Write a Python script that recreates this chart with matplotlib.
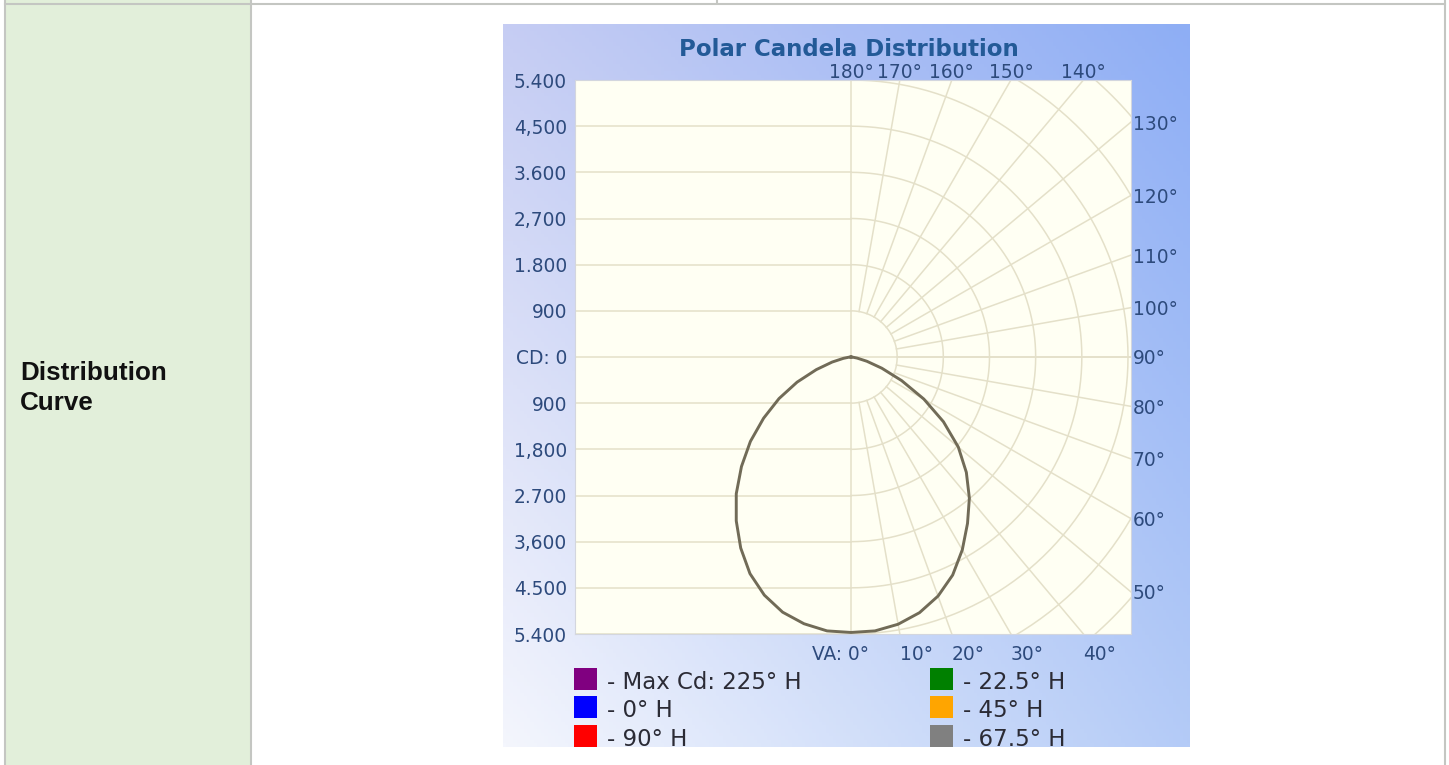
import numpy as np
import matplotlib.pyplot as plt
from matplotlib.patches import Rectangle
from matplotlib.colors import to_rgb

W, H = 1449, 765

# candela, per vertical angle (deg)
va_deg = [0, 5, 10, 15, 20, 25, 30, 35, 40, 45, 50, 55, 60, 65, 70, 75, 80, 85, 90]
cd_right = [5370, 5360, 5290, 5160, 4960, 4690, 4340, 3960, 3590, 3180, 2730,
            2200, 1640, 1090, 640, 320, 120, 30, 0]
cd_left = [5370, 5360, 5280, 5150, 4940, 4660, 4300, 3900, 3480, 3020, 2560,
           2080, 1620, 1160, 720, 380, 150, 40, 0]

cd_ticks = [5400, 4500, 3600, 2700, 1800, 900, 0, -900, -1800, -2700, -3600, -4500, -5400]
cd_labels = ["5.400", "4,500", "3.600", "2,700", "1.800", "900", "CD: 0",
             "900", "1,800", "2.700", "3,600", "4.500", "5.400"]
angle_ticks = list(range(0, 181, 10))
angle_labels = ["VA: 0°"] + [f"{a}°" for a in angle_ticks[1:]]

legend_names = ["- Max Cd: 225° H", "- 0° H", "- 90° H", "- 22.5° H", "- 45° H", "- 67.5° H"]
legend_colors = ["#800080", "#0000ff", "#ff0000", "#008000", "#ffa500", "#808080"]

label_color = "#2d4a7c"
grid_color = "#e4e0c9"

fig = plt.figure(figsize=(W / 100, H / 100), dpi=100)
fig.patch.set_facecolor("white")

# page (table) layer, pixel coordinates
page = fig.add_axes([0, 0, 1, 1], zorder=0)
page.set_xlim(0, W)
page.set_ylim(H, 0)
page.axis("off")
page.add_patch(Rectangle((5, 0), 246, H, facecolor="#e2efda", edgecolor="none"))
page.add_patch(Rectangle((251, 0), W - 251, 3, facecolor="white", edgecolor="none"))
for x in [5, 251, 1445]:
    page.plot([x, x], [0, H], color="#c4c6c2", lw=1.5)
page.plot([5, 1445], [3.5, 3.5], color="#c4c6c2", lw=1.5)
page.plot([717, 717], [0, 3], color="#c4c6c2", lw=1.5)
page.text(20, 380, "Distribution", fontsize=18.7, fontweight="bold",
          family="Liberation Sans", color="#111111", va="baseline")
page.text(20, 410, "Curve", fontsize=18.7, fontweight="bold",
          family="Liberation Sans", color="#111111", va="baseline")

# chart image background
cx0, cx1, cy0, cy1 = 503, 1190, 24, 747
bg = fig.add_axes([cx0 / W, 1 - cy1 / H, (cx1 - cx0) / W, (cy1 - cy0) / H], zorder=1)
bg.set_xlim(cx0, cx1)
bg.set_ylim(cy1, cy0)
bg.axis("off")
gx = np.linspace(0, 1, 200)[None, :, None]
gy = np.linspace(0, 1, 200)[:, None, None]
tl, tr, bl, br = (np.array(to_rgb(c)) for c in ["#c6cdf3", "#8eaef5", "#f4f6fd", "#b4cbf7"])
img = (1 - gx) * (1 - gy) * tl + gx * (1 - gy) * tr + (1 - gx) * gy * bl + gx * gy * br
bg.imshow(img, extent=(cx0, cx1, cy1, cy0), aspect="auto", origin="upper")
bg.text(849, 56, "Polar Candela Distribution", fontsize=16.5, fontweight="bold",
        color="#235a97", ha="center", va="baseline")

# legend, two columns, cut off at the bottom of the chart image
for i, (name, col) in enumerate(zip(legend_names, legend_colors)):
    colx = [574, 930][i // 3]
    rowy = 668 + 28.5 * (i % 3)
    bg.add_patch(Rectangle((colx, rowy), 23, 22, facecolor=col, edgecolor="none"))
    bg.text(colx + 33, rowy + 21, name, fontsize=16.5, color="#2b2b35", va="baseline")

# polar plot area
f = 5400 / 277.0  # candela per pixel
ax = fig.add_axes([575 / W, 1 - 634 / H, 556 / W, 554 / H], zorder=2)
xmin, xmax = -276 * f, 280 * f
ax.set_xlim(xmin, xmax)
ax.set_ylim(-5400, 5400)
ax.set_facecolor("#fffff3")
ax.set_xticks([])
ax.set_yticks([])
for s in ax.spines.values():
    s.set_color("#d3d6de")
    s.set_linewidth(0.8)

# left half: horizontal candela lines
for v in cd_ticks:
    ax.plot([xmin, 0], [v, v], color=grid_color, lw=1.1, zorder=1)
ax.plot([0, 0], [-5400, 5400], color=grid_color, lw=1.1, zorder=1)
ax.plot([0, xmax], [0, 0], color=grid_color, lw=1.1, zorder=1)

# right half: arcs and radial lines
th = np.radians(np.linspace(0, 180, 181))
for k in range(1, 10):
    r = 900 * k
    ax.plot(r * np.sin(th), -r * np.cos(th), color=grid_color, lw=1.1, zorder=1)
for a in angle_ticks[1:-1]:
    t = np.radians(a)
    ax.plot([900 * np.sin(t), 9000 * np.sin(t)], [-900 * np.cos(t), -9000 * np.cos(t)],
            color=grid_color, lw=1.1, zorder=1)

# candela curve
t = np.radians(va_deg)
xl = -np.array(cd_left) * np.sin(t)
yl = -np.array(cd_left) * np.cos(t)
xr = np.array(cd_right) * np.sin(t)
yr = -np.array(cd_right) * np.cos(t)
ax.plot(np.concatenate([xl[::-1], xr]), np.concatenate([yl[::-1], yr]),
        color="#716b57", lw=2.1, zorder=3)

# candela labels on the left
for v, lab in zip(cd_ticks, cd_labels):
    ax.text(xmin - 8 * f, v, lab, fontsize=13.4, color=label_color,
            ha="right", va="center_baseline", clip_on=False)

# vertical angle labels where each ray leaves the plot
for a, lab in zip(angle_ticks, angle_labels):
    t = np.radians(a)
    if a == 0:
        ax.text(-11 * f, -5400 - 19 * f, lab, fontsize=13.4, color=label_color,
                ha="center", va="center_baseline", clip_on=False)
    elif a <= 40:
        ax.text(5400 * np.tan(t), -5400 - 19 * f, lab, fontsize=13.4, color=label_color,
                ha="left", va="center_baseline", clip_on=False)
    elif a <= 130:
        y = -xmax * np.cos(t) / np.sin(t)
        ax.text(xmax + 2 * f, y, lab, fontsize=13.4, color=label_color,
                ha="left", va="center_baseline", clip_on=False)
    else:
        ax.text(-5400 * np.tan(t), 5400 + 10 * f, lab, fontsize=13.4, color=label_color,
                ha="center", va="center_baseline", clip_on=False)

fig.savefig("out.png", dpi=100)
